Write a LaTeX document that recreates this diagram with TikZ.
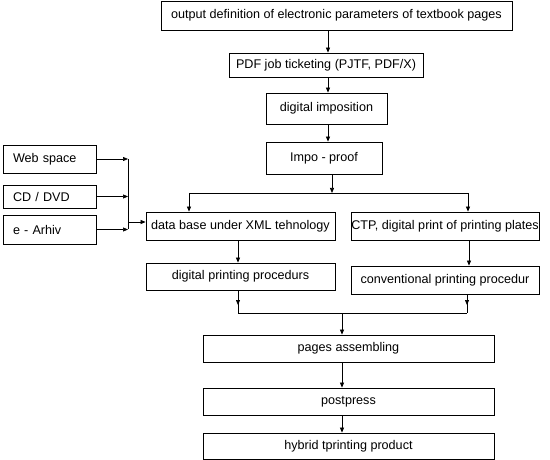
\documentclass[tikz,border=0pt]{standalone}
\usepackage{fontspec}
\setmainfont{Liberation Sans}
\usetikzlibrary{arrows.meta,calc}
\begin{document}
\begin{tikzpicture}[x=1pt,y=-1pt,
  box/.style={draw,line width=0.8pt,inner sep=0pt,font=\fontsize{12.6}{14}\selectfont},
  arr/.style={line width=0.7pt,-{Triangle[length=5pt,width=4pt]}},
  ln/.style={line width=0.7pt}]
\useasboundingbox (0,0) rectangle (550,460);
\node[box,minimum width=351pt,minimum height=29pt] (b1) at (336.5,15.5) {output definition of electronic parameters of textbook pages};
\node[box,minimum width=194pt,minimum height=24pt] (b2) at (326,65) {PDF job ticketing (PJTF, PDF/X)};
\node[box,minimum width=121pt,minimum height=31pt] (b3) at (326.5,108.5) {digital imposition};
\node[box,minimum width=116pt,minimum height=32pt] (b4) at (324,158) {Impo - proof};
\node[box,minimum width=93pt,minimum height=28pt,align=left,text width=73pt] (web) at (49.5,159) {Web space};
\node[box,minimum width=93pt,minimum height=23pt,align=left,text width=73pt] (cd) at (49.5,196.5) {CD / DVD};
\node[box,minimum width=93pt,minimum height=29pt,align=left,text width=73pt] (ea) at (49.5,229.5) {e - Arhiv};
\node[box,minimum width=189pt,minimum height=28pt] (db) at (240.5,226) {data base under XML tehnology};
\node[box,minimum width=188pt,minimum height=28pt] (ctp) at (445,226) {CTP, digital print of printing plates};
\node[box,minimum width=189pt,minimum height=27pt] (dpp) at (240.5,276.5) {digital printing procedurs};
\node[box,minimum width=188pt,minimum height=28pt] (cpp) at (445,280) {conventional printing procedur};
\node[box,minimum width=291pt,minimum height=27pt] (pa) at (348.5,348.5) {pages assembling};
\node[box,minimum width=291pt,minimum height=27pt] (pp) at (348.5,401.5) {postpress};
\node[box,minimum width=291pt,minimum height=26pt] (hy) at (348.5,446) {hybrid tprinting product};
% top chain
\coordinate (x1) at (328,0);
\draw[arr] (b1.south -| x1) -- (b2.north -| x1);
\draw[arr] (b2.south -| x1) -- (b3.north -| x1);
\draw[arr] (b3.south -| x1) -- (b4.north -| x1);
% split
\coordinate (sj) at (332,193);
\coordinate (sl) at (189,193);
\coordinate (sr) at (468,193);
\draw[arr] (b4.south -| sj) -- (sj);
\draw[ln] (sl) -- (sr);
\draw[arr] (sl) -- (db.north -| sl);
\draw[arr] (sr) -- (ctp.north -| sr);
% left inputs
\coordinate (vx) at (128,0);
\coordinate (jl) at (128,222);
\draw[arr] (web.east) -- (web.east -| vx);
\draw[arr] (cd.east) -- (cd.east -| vx);
\draw[arr] (ea.east) -- (ea.east -| vx);
\draw[ln] (web.east -| vx) -- (ea.east -| vx);
\draw[arr] (jl) -- (db.west |- jl);
% middle
\coordinate (xl) at (238,0);
\coordinate (xr) at (469,0);
\draw[arr] (db.south -| xl) -- (dpp.north -| xl);
\draw[arr] (ctp.south -| xr) -- (cpp.north -| xr);
% merge
\coordinate (ml) at (238,313);
\coordinate (mr) at (467,313);
\coordinate (mj) at (342,313);
\draw[arr] (dpp.south -| ml) -- ($(ml)+(0,-8)$);
\draw[arr] (cpp.south -| mr) -- ($(mr)+(0,-8)$);
\draw[ln] (ml) -- (mr);
\draw[ln] (dpp.south -| ml) -- (ml);
\draw[ln] (cpp.south -| mr) -- (mr);
\draw[arr] (mj) -- (pa.north -| mj);
\draw[arr] (pa.south -| mj) -- (pp.north -| mj);
\draw[arr] (pp.south -| mj) -- (hy.north -| mj);
\end{tikzpicture}
\end{document}
